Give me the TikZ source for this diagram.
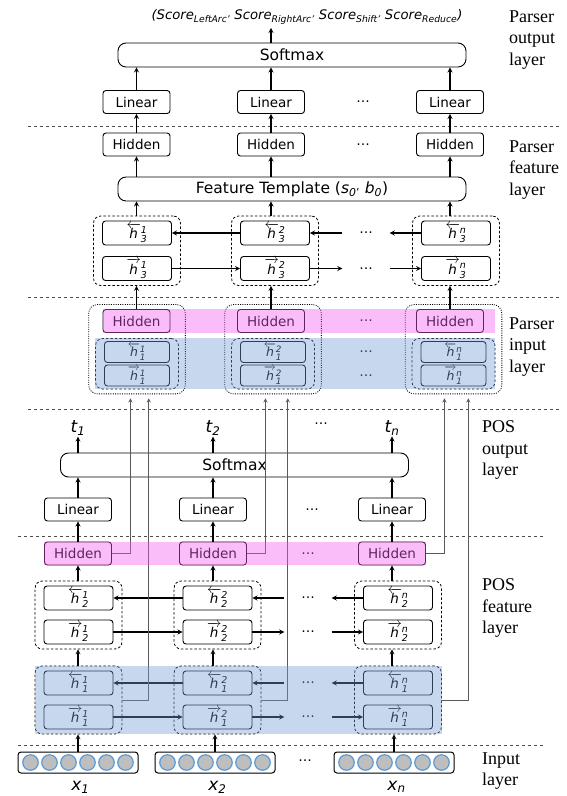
\documentclass[tikz,border=0pt]{standalone}
\usepackage{amsmath}
\usepackage{fontspec}
\setmainfont{DejaVu Sans}
\newfontfamily\lblfont{Liberation Serif}
\usetikzlibrary{positioning,fit,calc}
\usetikzlibrary{shapes.geometric, arrows}

\definecolor{bandpink}{RGB}{245,90,240}
\definecolor{bandblue}{RGB}{115,155,210}
\definecolor{unitgray}{RGB}{190,190,190}
\definecolor{unitblue}{RGB}{91,155,213}

\newcommand{\hfw}[2]{$\overrightarrow{\textit{h}}{}^{\textit{#2}}_{\textit{#1}}$}
\newcommand{\hbw}[2]{$\overleftarrow{\textit{h}}{}^{\textit{#2}}_{\textit{#1}}$}

\tikzstyle{box} = [rectangle, rounded corners=3pt, minimum width=67pt, minimum height=23pt, inner sep=0pt, text centered, draw=black, line width=0.9pt, fill=white, font=\fontsize{13.5}{15}\selectfont]
\tikzstyle{bigbox} = [rectangle, rounded corners=8pt, minimum width=348pt, minimum height=24pt, inner sep=0pt, text centered, draw=black, line width=0.9pt, fill=white, font=\fontsize{15.5}{17}\selectfont]
\tikzstyle{hbox} = [box, minimum width=69pt, minimum height=24pt]
\tikzstyle{sbox} = [box, minimum width=65pt, minimum height=21pt, font=\fontsize{12.5}{13}\selectfont]
\tikzstyle{inbox} = [rectangle, rounded corners=3pt, minimum width=120pt, minimum height=21pt, draw=black, line width=1pt, fill=white]
\tikzstyle{neuron} = [circle, minimum size=15.5pt, inner sep=0pt, fill=unitgray, draw=unitblue, line width=1.2pt]
\tikzstyle{hgroup} = [rectangle, rounded corners=7pt, draw=black, line width=0.8pt, dash pattern=on 2.5pt off 2pt, inner xsep=8.5pt, inner ysep=4.5pt]
\tikzstyle{pgroup} = [rectangle, rounded corners=9pt, draw=black, line width=0.8pt, dash pattern=on 1pt off 1.3pt, inner xsep=6.5pt, inner ysep=4.5pt]
\tikzstyle{ellip} = [minimum width=47pt, inner sep=0pt, font=\fontsize{13.5}{15}\selectfont]
\tikzstyle{varname} = [inner sep=1pt, font=\fontsize{17}{19}\selectfont\itshape]
\tikzstyle{layername} = [anchor=west, align=left, inner sep=0pt, font=\lblfont\fontsize{18}{21.5}\selectfont]
\tikzstyle{arrow} = [line width=1.2pt,->,>=stealth]
\tikzstyle{conn} = [line width=0.9pt, draw=black!65, ->, >=stealth, shorten >=4pt]
\tikzstyle{divider} = [draw=black!70, line width=0.8pt, dash pattern=on 3pt off 3pt]
\tikzstyle{pinkband} = [fill=bandpink, fill opacity=0.4]
\tikzstyle{blueband} = [fill=bandblue, fill opacity=0.4]

\begin{document}
\begin{tikzpicture}[x=1pt, y=1pt, node distance=40pt]
\useasboundingbox (0,0) rectangle (566,-796);


% Parser output layer

	\node (softmaxParser) [bigbox] at (292,-55) {Softmax};

	\node (score) [above of=softmaxParser, node distance=38pt, xshift=15pt, font=\fontsize{13.2}{15}\selectfont\itshape] {(Score\textsubscript{LeftArc’} Score\textsubscript{RightArc’} Score\textsubscript{Shift’} Score\textsubscript{Reduce})};

	\node (linearParser2) [box, below of=softmaxParser, node distance=47pt, xshift=-21pt] {Linear};
	\node (linearParser1) [box, left of=linearParser2, node distance=134.5pt] {Linear};
	\node (linearParser3) [box, right of=linearParser2, node distance=179pt] {Linear};
	\node (dotsLinParser) [ellip, right of=linearParser2, node distance=92pt] {\dots};


% Parser feature layer

	\node (hiddenParser2) [box, below of=linearParser2, node distance=42.5pt] {Hidden};
	\node (hiddenParser1) [box, left of=hiddenParser2, node distance=134.5pt] {Hidden};
	\node (hiddenParser3) [box, right of=hiddenParser2, node distance=179pt] {Hidden};
	\node (dotsHidParser) [ellip, right of=hiddenParser2, node distance=92pt] {\dots};

	\node (featureTemplate) [bigbox, below of=softmaxParser, node distance=134pt] {Feature Template (\textit{s}\textsubscript{\textit{0}’} \textit{b}\textsubscript{\textit{0}})};

	\node (hThreeBwd2) [hbox, below of=hiddenParser2, node distance=88.5pt, xshift=4pt] {\hbw{3}{2}};
	\node (hThreeFwd2) [hbox, below of=hThreeBwd2, node distance=35.5pt] {\hfw{3}{2}};
	\node (hThreeBwd1) [hbox, left of=hThreeBwd2, node distance=138pt] {\hbw{3}{1}};
	\node (hThreeFwd1) [hbox, left of=hThreeFwd2, node distance=138pt] {\hfw{3}{1}};
	\node (hThreeBwd3) [hbox, right of=hThreeBwd2, node distance=181pt] {\hbw{3}{n}};
	\node (hThreeFwd3) [hbox, right of=hThreeFwd2, node distance=181pt] {\hfw{3}{n}};
	\node (dotsThreeBwd) [ellip, right of=hThreeBwd2, node distance=91pt] {\dots};
	\node (dotsThreeFwd) [ellip, right of=hThreeFwd2, node distance=91pt] {\dots};

	\node (hThreeGroup1) [hgroup, fit=(hThreeBwd1)(hThreeFwd1)] {};
	\node (hThreeGroup2) [hgroup, fit=(hThreeBwd2)(hThreeFwd2)] {};
	\node (hThreeGroup3) [hgroup, fit=(hThreeBwd3)(hThreeFwd3)] {};


% Parser input layer

	\node (parserHidden2) [box, below of=hiddenParser2, node distance=176.5pt] {Hidden};
	\node (parserHidden1) [box, left of=parserHidden2, node distance=134.5pt] {Hidden};
	\node (parserHidden3) [box, right of=parserHidden2, node distance=179pt] {Hidden};
	\node (dotsHidInput) [ellip, right of=parserHidden2, node distance=95pt] {\dots};

	\node (hOneBwdParser2) [sbox, below of=parserHidden2, node distance=31pt, xshift=2pt] {\hbw{1}{2}};
	\node (hOneFwdParser2) [sbox, below of=hOneBwdParser2, node distance=23.5pt] {\hfw{1}{2}};
	\node (hOneBwdParser1) [sbox, left of=hOneBwdParser2, node distance=136pt] {\hbw{1}{1}};
	\node (hOneFwdParser1) [sbox, left of=hOneFwdParser2, node distance=136pt] {\hfw{1}{1}};
	\node (hOneBwdParser3) [sbox, right of=hOneBwdParser2, node distance=180.5pt] {\hbw{1}{n}};
	\node (hOneFwdParser3) [sbox, right of=hOneFwdParser2, node distance=180.5pt] {\hfw{1}{n}};
	\node (dotsOneBwdParser) [ellip, right of=hOneBwdParser2, node distance=93pt] {\dots};
	\node (dotsOneFwdParser) [ellip, right of=hOneFwdParser2, node distance=93pt] {\dots};

	\node (parserInput1) [hgroup, inner ysep=2.5pt, fit=(hOneBwdParser1)(hOneFwdParser1)] {};
	\node (parserInput2) [hgroup, inner ysep=2.5pt, fit=(hOneBwdParser2)(hOneFwdParser2)] {};
	\node (parserInput3) [hgroup, inner ysep=2.5pt, fit=(hOneBwdParser3)(hOneFwdParser3)] {};

	\node (parserGroup1) [pgroup, fit=(parserHidden1)(parserInput1)] {};
	\node (parserGroup2) [pgroup, fit=(parserHidden2)(parserInput2)] {};
	\node (parserGroup3) [pgroup, fit=(parserHidden3)(parserInput3)] {};


% POS output layer

	\node (softmaxPOS) [bigbox, below of=featureTemplate, node distance=276pt, xshift=-57.5pt] {Softmax};

	\node (linearPOS2) [box, below of=softmaxPOS, node distance=44.5pt, xshift=-21.5pt] {Linear};
	\node (linearPOS1) [box, left of=linearPOS2, node distance=135pt] {Linear};
	\node (linearPOS3) [box, right of=linearPOS2, node distance=179pt] {Linear};
	\node (dotsLinPOS) [ellip, right of=linearPOS2, node distance=99pt] {\dots};

	\node (tag1) [varname, above of=linearPOS1, node distance=81.5pt] {t\textsubscript{1}};
	\node (tag2) [varname, above of=linearPOS2, node distance=81.5pt] {t\textsubscript{2}};
	\node (tag3) [varname, above of=linearPOS3, node distance=81.5pt] {t\textsubscript{n}};
	\node (dotsTag) [ellip, above of=dotsLinPOS, node distance=86pt, xshift=9pt] {\dots};


% POS feature layer

	\node (hiddenPOS2) [box, below of=linearPOS2, node distance=44pt] {Hidden};
	\node (hiddenPOS1) [box, left of=hiddenPOS2, node distance=135pt] {Hidden};
	\node (hiddenPOS3) [box, right of=hiddenPOS2, node distance=179pt] {Hidden};
	\node (dotsHidPOS) [ellip, right of=hiddenPOS2, node distance=95pt] {\dots};

	\node (hTwoBwd2) [hbox, below of=hiddenPOS2, node distance=44.5pt, xshift=4.5pt] {\hbw{2}{2}};
	\node (hTwoFwd2) [hbox, below of=hTwoBwd2, node distance=34pt] {\hfw{2}{2}};
	\node (hTwoBwd1) [hbox, left of=hTwoBwd2, node distance=139pt] {\hbw{2}{1}};
	\node (hTwoFwd1) [hbox, left of=hTwoFwd2, node distance=139pt] {\hfw{2}{1}};
	\node (hTwoBwd3) [hbox, right of=hTwoBwd2, node distance=180.5pt] {\hbw{2}{n}};
	\node (hTwoFwd3) [hbox, right of=hTwoFwd2, node distance=180.5pt] {\hfw{2}{n}};
	\node (dotsTwoBwd) [ellip, right of=hTwoBwd2, node distance=90.5pt] {\dots};
	\node (dotsTwoFwd) [ellip, right of=hTwoFwd2, node distance=90.5pt] {\dots};

	\node (hTwoGroup1) [hgroup, fit=(hTwoBwd1)(hTwoFwd1)] {};
	\node (hTwoGroup2) [hgroup, fit=(hTwoBwd2)(hTwoFwd2)] {};
	\node (hTwoGroup3) [hgroup, fit=(hTwoBwd3)(hTwoFwd3)] {};

	\node (hOneBwd2) [hbox, below of=hTwoFwd2, node distance=51pt] {\hbw{1}{2}};
	\node (hOneFwd2) [hbox, below of=hOneBwd2, node distance=34pt] {\hfw{1}{2}};
	\node (hOneBwd1) [hbox, left of=hOneBwd2, node distance=139pt] {\hbw{1}{1}};
	\node (hOneFwd1) [hbox, left of=hOneFwd2, node distance=139pt] {\hfw{1}{1}};
	\node (hOneBwd3) [hbox, right of=hOneBwd2, node distance=180.5pt] {\hbw{1}{n}};
	\node (hOneFwd3) [hbox, right of=hOneFwd2, node distance=180.5pt] {\hfw{1}{n}};
	\node (dotsOneBwd) [ellip, right of=hOneBwd2, node distance=90.5pt] {\dots};
	\node (dotsOneFwd) [ellip, right of=hOneFwd2, node distance=90.5pt] {\dots};

	\node (hOneGroup1) [hgroup, fit=(hOneBwd1)(hOneFwd1)] {};
	\node (hOneGroup2) [hgroup, fit=(hOneBwd2)(hOneFwd2)] {};
	\node (hOneGroup3) [hgroup, fit=(hOneBwd3)(hOneFwd3)] {};


% Input layer

	\node (input2) [inbox, below of=hOneFwd2, node distance=45.5pt, xshift=-2.5pt] {};
	\node (input1) [inbox, left of=input2, node distance=137pt] {};
	\node (input3) [inbox, right of=input2, node distance=179pt] {};
	\node (dotsInput) [ellip, right of=input2, node distance=90pt, yshift=2pt] {\dots};

	\foreach \w in {1,2,3}
		\foreach \k [count=\j] in {-2.5,-1.5,...,2.5}
			\node (unit\w\j) [neuron, xshift=\k*19pt] at (input\w) {};

	\node (word1) [varname, below of=input1, node distance=24.5pt, xshift=2.5pt] {x\textsubscript{1}};
	\node (word2) [varname, below of=input2, node distance=24.5pt, xshift=2.5pt] {x\textsubscript{2}};
	\node (word3) [varname, below of=input3, node distance=24.5pt, xshift=2.5pt] {x\textsubscript{n}};


% Layer names

	\node (nameParserOut) [layername] at (509,-40) {Parser\\output\\layer};
	\node (nameParserFeat) [layername] at (509,-170) {Parser\\feature\\layer};
	\node (nameParserIn) [layername] at (509,-347) {Parser\\input\\layer};
	\node (namePOSOut) [layername] at (482,-450) {POS\\output\\layer};
	\node (namePOSFeat) [layername] at (482,-608) {POS\\feature\\layer};
	\node (nameInput) [layername] at (482,-771) {Input\\layer};


% Layer borders

	\draw [divider] (28,-126) -- (560,-126);
	\draw [divider] (28,-297) -- (560,-297);
	\draw [divider] (28,-409) -- (560,-409);
	\draw [divider] (18,-536) -- (544,-536);
	\draw [divider] (18,-745) -- (544,-745);


% Parser stack arrows
	\draw [arrow] (softmaxParser.north -| linearParser2) -- (score.south -| linearParser2);
	\foreach \c in {1,2,3} {
		\draw [arrow] (linearParser\c.north) -- (linearParser\c.north |- softmaxParser.south);
		\draw [arrow] (hiddenParser\c.north) -- (linearParser\c.south);
		\draw [arrow] (featureTemplate.north -| hiddenParser\c) -- (hiddenParser\c.south);
		\draw [arrow] (hThreeGroup\c.north -| hiddenParser\c) -- (featureTemplate.south -| hiddenParser\c);
		\draw [arrow] (parserHidden\c.north) -- (parserHidden\c.north |- hThreeGroup\c.south);
	}

	\draw [arrow] (hThreeBwd2.west) -- (hThreeBwd1.east);
	\draw [arrow] (dotsThreeBwd.west) -- (hThreeBwd2.east);
	\draw [arrow] (hThreeBwd3.west) -- (dotsThreeBwd.east);
	\draw [arrow] (hThreeFwd1.east) -- (hThreeFwd2.west);
	\draw [arrow] (hThreeFwd2.east) -- (dotsThreeFwd.west);
	\draw [arrow] (dotsThreeFwd.east) -- (hThreeFwd3.west);


% POS stack arrows
	\foreach \c in {1,2,3} {
		\draw [arrow] (softmaxPOS.north -| tag\c) -- (tag\c);
		\draw [arrow] (linearPOS\c.north) -- (linearPOS\c.north |- softmaxPOS.south);
		\draw [arrow] (hiddenPOS\c.north) -- (linearPOS\c.south);
		\draw [arrow] (hTwoGroup\c.north -| hiddenPOS\c) -- (hiddenPOS\c.south);
		\draw [arrow] (hOneGroup\c.north -| hiddenPOS\c) -- (hTwoGroup\c.south -| hiddenPOS\c);
		\draw [arrow] (input\c.north) -- (input\c.north |- hOneGroup\c.south);
	}

	\draw [arrow] (hTwoBwd2.west) -- (hTwoBwd1.east);
	\draw [arrow] (dotsTwoBwd.west) -- (hTwoBwd2.east);
	\draw [arrow] (hTwoBwd3.west) -- (dotsTwoBwd.east);
	\draw [arrow] (hTwoFwd1.east) -- (hTwoFwd2.west);
	\draw [arrow] (hTwoFwd2.east) -- (dotsTwoFwd.west);
	\draw [arrow] (dotsTwoFwd.east) -- (hTwoFwd3.west);

	\draw [arrow] (hOneBwd2.west) -- (hOneBwd1.east);
	\draw [arrow] (dotsOneBwd.west) -- (hOneBwd2.east);
	\draw [arrow] (hOneBwd3.west) -- (dotsOneBwd.east);
	\draw [arrow] (hOneFwd1.east) -- (hOneFwd2.west);
	\draw [arrow] (hOneFwd2.east) -- (dotsOneFwd.west);
	\draw [arrow] (dotsOneFwd.east) -- (hOneFwd3.west);


% POS to parser connects
	\foreach \c in {1,2,3} {
		\draw [conn] (hiddenPOS\c.east) -| ($(hiddenPOS\c.east |- parserGroup\c.south)+(18.5pt,0)$);
		\draw [conn] (hOneGroup\c.east) -| ($(hOneGroup\c.east |- parserGroup\c.south)+(26.5pt,0)$);
	}


% Shared layers
	\fill [pinkband] (hiddenPOS1.north west) rectangle (hiddenPOS3.south east);
	\fill [blueband] (hOneGroup1.north west) rectangle (hOneGroup3.south east);
	\fill [pinkband] (parserHidden1.north west) rectangle (parserInput3.east |- parserHidden3.south);
	\fill [blueband] (parserInput1.north west) rectangle (parserInput3.south east);

\end{tikzpicture}
\end{document}
